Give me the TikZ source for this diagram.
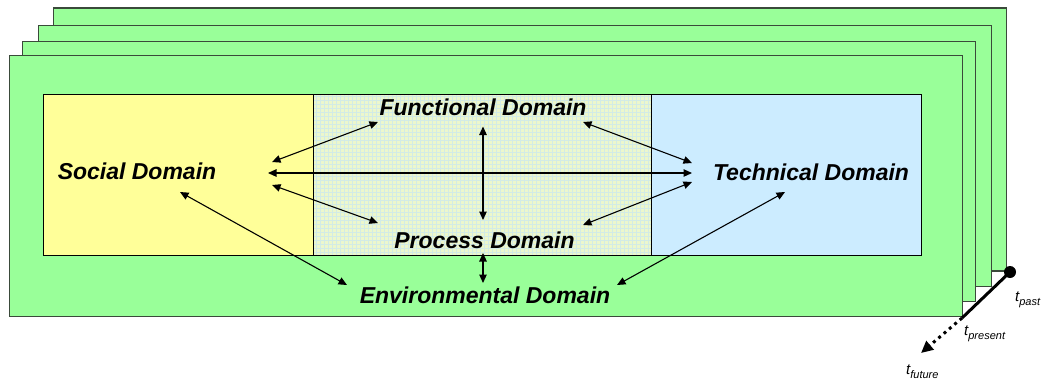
\documentclass[tikz,border=0pt]{standalone}
\usepackage{fontspec}
\setmainfont{Liberation Sans}
\usetikzlibrary{arrows.meta}
\definecolor{framegreen}{HTML}{99FF99}
\definecolor{frameedge}{HTML}{3A4A3A}
\definecolor{socialyellow}{HTML}{FFFF99}
\definecolor{techblue}{HTML}{CCECFF}
\definecolor{procfill}{HTML}{ECF7CC}
\definecolor{procgrid}{HTML}{D2EBE6}
\tikzset{
  frame/.style={fill=framegreen, draw=frameedge, line width=1.1pt},
  domainbox/.style={draw=black, line width=0.9pt},
  dlabel/.style={font=\fontsize{23}{27}\selectfont\bfseries\itshape, inner sep=0pt, anchor=base},
  link/.style={line width=1.1pt, {Triangle[length=8.5pt,width=7.5pt]}-{Triangle[length=8.5pt,width=7.5pt]}},
  tlabel/.style={font=\fontsize{15}{18}\selectfont\itshape, inner sep=0pt, anchor=base west},
}
\newcommand{\tsub}[1]{t\raisebox{-4pt}{\fontsize{11}{13}\selectfont #1}}
\begin{document}
\begin{tikzpicture}[x=1pt,y=-1pt]
\useasboundingbox (0,0) rectangle (1043,381);
% stacked frames (back to front)
\draw[frame] (53.3,8) rectangle (1006.7,271);
\draw[frame] (38.3,25.7) rectangle (991.7,286.7);
\draw[frame] (22.7,41.7) rectangle (975.7,301.7);
\draw[frame] (9.3,55.7) rectangle (962.7,316.7);
% domain boxes
\fill[socialyellow] (43.3,94) rectangle (313.3,255);
\fill[procfill] (313.3,94) rectangle (651,255);
\begin{scope}
\clip (313.3,94) rectangle (651,255);
\draw[procgrid, line width=0.35pt, step=4pt] (313.3,94) grid (651,255);
\end{scope}
\fill[techblue] (651,94) rectangle (921.7,255);
\draw[domainbox] (43.3,94) rectangle (313.3,255);
\draw[domainbox] (313.3,94) rectangle (651,255);
\draw[domainbox] (651,94) rectangle (921.7,255);
% labels
\node[dlabel] (func) at (483,115) {Functional Domain};
\node[dlabel] (soc) at (137,179.5) {Social Domain};
\node[dlabel] (tech) at (811,180) {Technical Domain};
\node[dlabel] (proc) at (484.5,248) {Process Domain};
\node[dlabel] (env) at (485,303.3) {Environmental Domain};
% connector end points
\coordinate (sF) at (272,162);
\coordinate (fS) at (378,122);
\coordinate (sP) at (272,185);
\coordinate (pS) at (378,223);
\coordinate (sT) at (268,173);
\coordinate (tS) at (692,173);
\coordinate (fP) at (483,126.5);
\coordinate (pF) at (483,220);
\coordinate (fT) at (583,122);
\coordinate (tF) at (692,163);
\coordinate (pT) at (583,225);
\coordinate (tP) at (692,182);
\coordinate (pE) at (483,253);
\coordinate (eP) at (483,283);
\coordinate (sE) at (180,192);
\coordinate (eS) at (347,285);
\coordinate (tE) at (785,192);
\coordinate (eT) at (617,285);
\draw[link] (sF) -- (fS);
\draw[link] (sP) -- (pS);
\draw[link] (sT) -- (tS);
\draw[link] (fP) -- (pF);
\draw[link] (fT) -- (tF);
\draw[link] (pT) -- (tP);
\draw[link] (pE) -- (eP);
\draw[link] (sE) -- (eS);
\draw[link] (tE) -- (eT);
% time axis
\node[circle, fill=black, inner sep=0pt, minimum size=12pt] (past) at (1010,272) {};
\coordinate (present) at (962,318);
\coordinate (future) at (921,353);
\draw[line width=3pt] (past.center) -- (present);
\draw[line width=3pt, dash pattern=on 3pt off 4pt, -{Triangle[length=12pt,width=11pt]}] (present) -- (future);
\node[tlabel] (lpast) at (1015,301) {\tsub{past}};
\node[tlabel] (lpresent) at (964,335) {\tsub{present}};
\node[tlabel] (lfuture) at (906,374) {\tsub{future}};
\end{tikzpicture}
\end{document}
